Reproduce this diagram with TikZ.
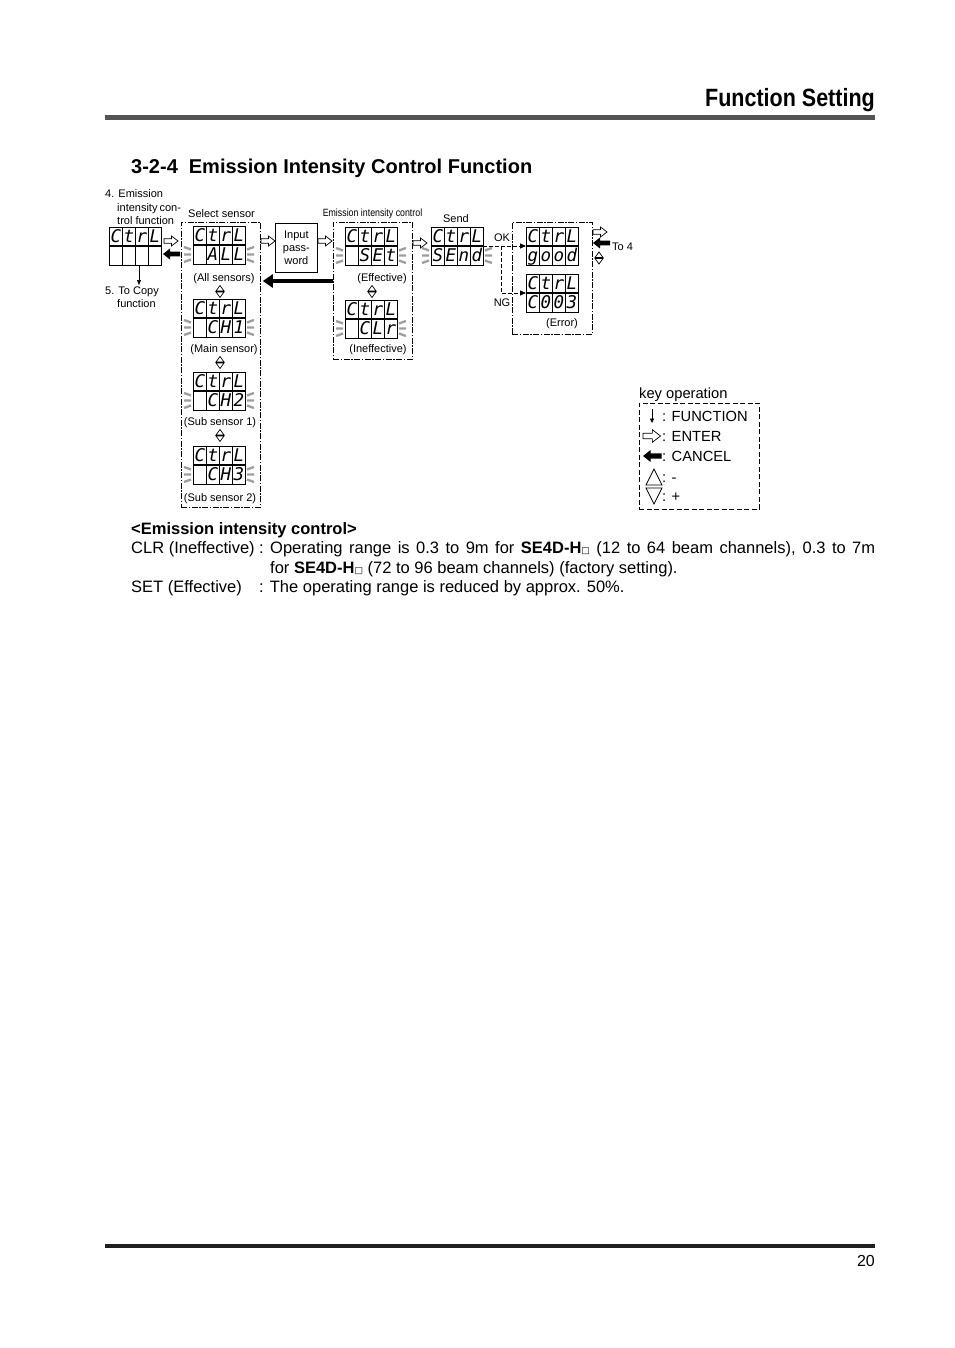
\documentclass[tikz,border=0pt]{standalone}
\usepackage{fontspec}
\setmainfont{Liberation Sans}
\newfontfamily\hdrfont[FakeStretch=0.86]{Liberation Sans}
\newfontfamily\segfont{DejaVu Sans Mono}
\newfontfamily\symfont{DejaVu Sans}
\usetikzlibrary{calc,arrows.meta}
\newcommand\sqbox{{\symfont\fontsize{9}{9}\selectfont □}}
\newcommand\segdisp[4]{%
  \node[dispbox] (#1) at #2 {};
  \foreach \k in {1,2,3}{\draw[line width=0.8] ($(#1.north west)+(13*\k,0)$) -- ($(#1.south west)+(13*\k,0)$);}
  \draw[line width=1.8] (#1.west) -- (#1.east);
  \foreach \dch [count=\k] in {#3}{\node[segtxt] at ($(#1.north west)+(13*\k-6.2,-15.6)$) {\dch};}
  \foreach \dch [count=\k] in {#4}{\node[segtxt] at ($(#1.south west)+(13*\k-6.2,3.4)$) {\dch};}
}
\newcommand\blinkm[1]{%
  \draw[blinkline] ($(#1.south west)+(-9,17)$) -- ($(#1.south west)+(-2,14.5)$)
    ($(#1.south west)+(-9,9.5)$) -- ($(#1.south west)+(-2,9.5)$)
    ($(#1.south west)+(-9,2)$) -- ($(#1.south west)+(-2,4.5)$)
    ($(#1.south east)+(2,14.5)$) -- ($(#1.south east)+(9,17)$)
    ($(#1.south east)+(2,9.5)$) -- ($(#1.south east)+(9,9.5)$)
    ($(#1.south east)+(2,4.5)$) -- ($(#1.south east)+(9,2)$);
}
\tikzset{
  dispbox/.style={draw,line width=0.9,minimum width=52,minimum height=38,inner sep=0,outer sep=0},
  segtxt/.style={anchor=base,inner sep=0,font=\segfont\itshape\fontsize{17.5}{17.5}\selectfont},
  blinkline/.style={line width=2.3,color=black!38},
  dbox/.style={draw,line width=0.8,dash pattern=on 6pt off 1.5pt on 1.5pt off 1.5pt,inner sep=0,anchor=north west},
  keybox/.style={draw,line width=0.8,dash pattern=on 5pt off 2.5pt,inner sep=0,anchor=north west},
  lbl/.style={inner sep=0,font=\fontsize{11}{13}\selectfont},
  body/.style={inner sep=0,anchor=base west,font=\fontsize{16.5}{19.5}\selectfont},
  keytxt/.style={inner sep=0,anchor=base west,font=\fontsize{14.7}{17}\selectfont},
  okline/.style={line width=0.8,dash pattern=on 4pt off 2pt,-{Triangle[length=6pt,width=5pt]}},
  enterarr/.pic={\draw[line width=0.7,fill=white] (0,2.2)--(7.5,2.2)--(7.5,5)--(14,0)--(7.5,-5)--(7.5,-2.2)--(0,-2.2)--cycle;},
  cancelarr/.pic={\fill (0,0)--(7,5.5)--(7,2.3)--(17,2.3)--(17,-2.3)--(7,-2.3)--(7,-5.5)--cycle;},
  updn/.pic={\draw[line width=0.7] (-4,0.5)--(4,0.5)--(0,6)--cycle (-4,-0.5)--(4,-0.5)--(0,-6)--cycle;},
}
\begin{document}
\begin{tikzpicture}[x=1pt,y=1pt]
\useasboundingbox (0,0) rectangle (954,-1348);
\fill[white] (0,0) rectangle (954,-1348);
% header
\node[anchor=base east,inner sep=0,font=\hdrfont\bfseries\fontsize{25}{28}\selectfont] (hdr) at (875,-107) {Function Setting};
\fill[black!67] (105,-115) rectangle (875,-120);
\node[anchor=base west,inner sep=0,font=\bfseries\fontsize{20}{24}\selectfont] (sec) at (131,-174) {3-2-4\hspace{0.55em}Emission Intensity Control Function};
% left labels
\node[lbl,anchor=base west] (l4a) at (105,-198) {4. Emission};
\node[lbl,anchor=base west] (l4b) at (117,-212) {\makebox[63pt][s]{intensity con-}};
\node[lbl,anchor=base west] (l4c) at (117,-225) {trol function};
\node[lbl,anchor=base west] (l5a) at (105,-294) {5. To Copy};
\node[lbl,anchor=base west] (l5b) at (117,-307) {function};
% first display
\segdisp{d0}{(135,-246)}{C,t,r,L}{{},{},{},{}}
\coordinate (fn) at (139,-285);
\draw[line width=0.7,-{Triangle[length=5pt,width=4pt]}] (d0.south -| fn) -- (fn);
\pic at (164,-241) {enterarr};
\pic at (163,-254) {cancelarr};
% select sensor box
\node[dbox,minimum width=79,minimum height=285] (sel) at (181,-222) {};
\node[lbl,anchor=base west] (lsel) at (188,-218) {Select sensor};
\segdisp{all}{(219,-245)}{C,t,r,L}{{},A,L,L}\blinkm{all}
\node[lbl,anchor=base] (lall) at (224,-281) {(All sensors)};
\pic at (220,-291.5) {updn};
\segdisp{ch1}{(219,-318)}{C,t,r,L}{{},C,H,1}\blinkm{ch1}
\node[lbl,anchor=base] (lch1) at (224,-352) {(Main sensor)};
\pic at (220,-362.5) {updn};
\segdisp{ch2}{(219,-391)}{C,t,r,L}{{},C,H,2}\blinkm{ch2}
\node[lbl,anchor=base] (lch2) at (220,-425) {(Sub sensor 1)};
\pic at (220,-435.5) {updn};
\segdisp{ch3}{(219,-465)}{C,t,r,L}{{},C,H,3}\blinkm{ch3}
\node[lbl,anchor=base] (lch3) at (220,-501) {(Sub sensor 2)};
% password
\pic at (261,-241) {enterarr};
\node[draw,line width=0.8,minimum width=42,minimum height=49,anchor=north west,align=center,inner sep=0,font=\fontsize{11}{13}\selectfont] (pw) at (275,-223) {Input\\pass-\\word};
\pic at (318,-241) {enterarr};
% emission intensity control box
\node[dbox,minimum width=79,minimum height=137] (emi) at (333,-222) {};
\node[lbl,anchor=base] (lemi) at (372.5,-217) {\scalebox{0.84}[1]{\fontsize{10.5}{12}\selectfont Emission intensity control}};
\segdisp{set}{(371,-246)}{C,t,r,L}{{},S,E,t}\blinkm{set}
\node[lbl,anchor=base] (lset) at (382,-281) {(Effective)};
\pic at (372,-291.5) {updn};
\segdisp{clr}{(371,-319)}{C,t,r,L}{{},C,L,r}\blinkm{clr}
\node[lbl,anchor=base] (lclr) at (378,-352) {(Ineffective)};
\coordinate (cy) at (0,-281);
\draw[line width=4.5,-{Triangle[length=10pt,width=13pt]},shorten >=2pt] (emi.west |- cy) -- (sel.east |- cy);
% send
\pic at (413,-243) {enterarr};
\node[lbl,anchor=base] (lsend) at (456,-223) {Send};
\segdisp{send}{(457,-246)}{C,t,r,L}{S,E,n,d}\blinkm{send}
% result box
\node[dbox,minimum width=80,minimum height=112] (res) at (512,-222) {};
\segdisp{good}{(552,-246)}{C,t,r,L}{g,o,o,d}
\segdisp{err}{(552,-293)}{C,t,r,L}{C,0,0,3}
\node[lbl,anchor=base] (lerr) at (562,-326) {(Error)};
\coordinate (jn) at (501,-246);
\draw[okline] (send.east) -- (good.west);
\draw[okline] (jn) |- (err.west);
\node[lbl,anchor=base] (lok) at (502,-241) {OK};
\node[lbl,anchor=base] (lng) at (502,-306) {NG};
\pic at (593,-232) {enterarr};
\pic at (593,-243) {cancelarr};
\node[lbl,anchor=base west] (lto4) at (612,-251) {To 4};
\pic at (599,-258) {updn};
% key operation
\node[keytxt] (lkey) at (639,-398) {key operation};
\node[keybox,minimum width=120,minimum height=106] (key) at (639,-403) {};
\draw[line width=0.8,-{Triangle[length=4.5pt,width=4pt]}] (652,-409) -- (652,-423);
\node[keytxt] (k1) at (662,-421) {: FUNCTION};
\pic[scale=1.25] at (643,-436) {enterarr};
\node[keytxt] (k2) at (662,-441) {: ENTER};
\pic[scale=1.1] at (643,-456) {cancelarr};
\node[keytxt] (k3) at (662,-461) {: CANCEL};
\draw[line width=0.8] (646,-485)--(662,-485)--(654,-469)--cycle;
\node[keytxt] (k4) at (662,-482) {: -};
\draw[line width=0.8] (646,-488)--(662,-488)--(654,-504)--cycle;
\node[keytxt] (k5) at (662,-501) {: +};
% text block
\node[body] (t0) at (131,-534) {\bfseries <Emission intensity control>};
\node[body] (t1a) at (131,-553) {CLR (Ineffective)};
\node[body] (t1b) at (259,-553) {:};
\node[body] (t1c) at (270,-553) {\makebox[605pt][s]{Operating range is 0.3 to 9m for \textbf{SE4D-H}\sqbox{} (12 to 64 beam channels), 0.3 to 7m}};
\node[body] (t2) at (270,-573) {for \textbf{SE4D-H}\sqbox{} (72 to 96 beam channels) (factory setting).};
\node[body] (t3a) at (131,-592) {SET (Effective)};
\node[body] (t3b) at (259,-592) {: The operating range is reduced by approx. 50\%.};
% footer
\fill[black!88] (105,-1244) rectangle (875,-1248);
\node[anchor=base east,inner sep=0,font=\fontsize{16}{18}\selectfont] (pg) at (875,-1266) {20};
\end{tikzpicture}
\end{document}
